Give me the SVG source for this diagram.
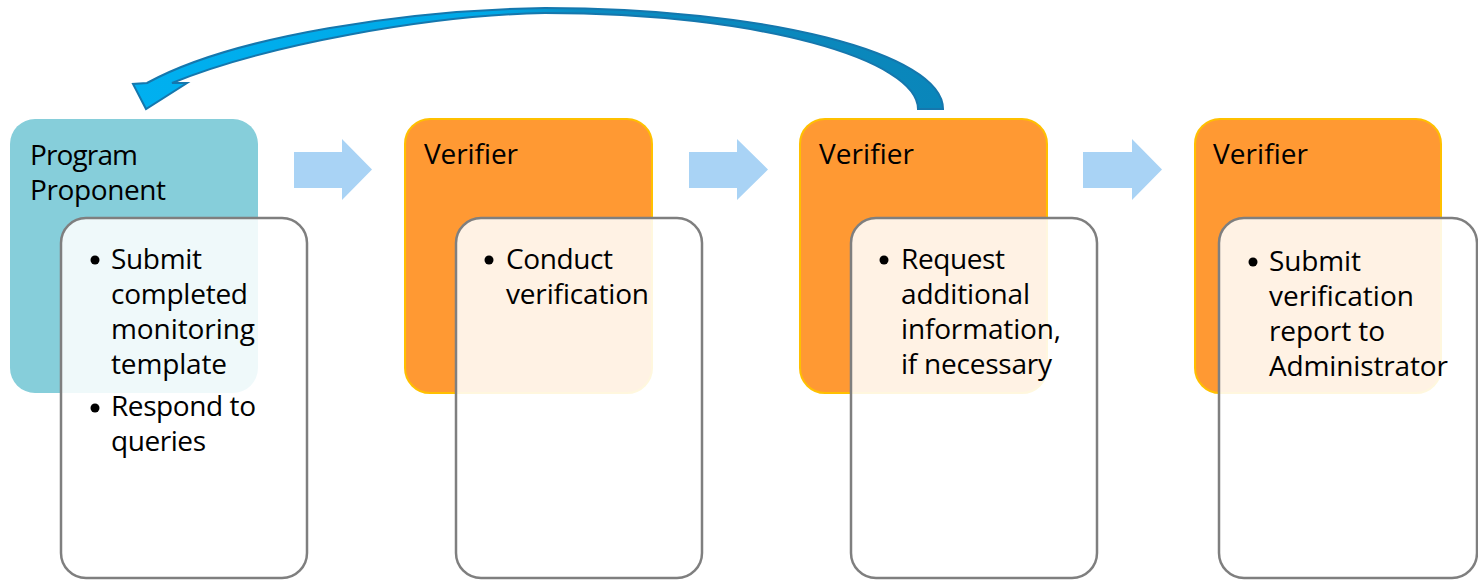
<svg xmlns="http://www.w3.org/2000/svg" width="1478" height="580" viewBox="0 0 1478 580">
  <style>
    .t { font-family: "Open Sans", "Liberation Sans", sans-serif; font-size: 28px; fill: #000; }
    .teal { fill: #86CEDA; }
    .orange { fill: #FF9933; stroke: #FFC000; stroke-width: 2; }
    .inner { fill: #FFFFFF; fill-opacity: 0.87; stroke: #7F7F7F; stroke-width: 2.5; }
    .blk { fill: #A9D3F5; }
    .dot { fill: #000; }
  </style>
  <defs>
    <linearGradient id="curveGrad" x1="130" y1="0" x2="945" y2="0" gradientUnits="userSpaceOnUse">
      <stop offset="0" stop-color="#00B0F0"/>
      <stop offset="0.45" stop-color="#00A8E6"/>
      <stop offset="0.55" stop-color="#0A8CC2"/>
      <stop offset="1" stop-color="#0A86BA"/>
    </linearGradient>
  </defs>

  <rect width="1478" height="580" fill="#FFFFFF"/>

  <g id="connectors">
    <path id="curved-arrow" d="M943,109 C943,53 765,8 545,8 C410,10 235,35 147,83 L133,84 L146,109 L187,83 L172,83 C265,45 430,15 545,13 C760,13 918,60 918,109 Z" fill="url(#curveGrad)" stroke="#1577AD" stroke-width="2" stroke-linejoin="miter"/>
    <path id="arrow-1" class="blk" d="M294,152 L342,152 L342,139 L372,169.5 L342,200 L342,188 L294,188 Z"/>
    <path id="arrow-2" class="blk" d="M689,152 L737,152 L737,139 L768,169.5 L737,200 L737,188 L689,188 Z"/>
    <path id="arrow-3" class="blk" d="M1083,152 L1132,152 L1132,139 L1162,169.5 L1132,200 L1132,188 L1083,188 Z"/>
  </g>

  <g id="node-program-proponent">
    <rect class="teal" x="10" y="119" width="248" height="274" rx="25" ry="25"/>
    <text class="t" x="30" y="165" textLength="108">Program</text>
    <text class="t" x="30" y="200" textLength="136">Proponent</text>
  </g>
  <g id="node-program-proponent-tasks">
    <rect class="inner" x="61" y="218" width="246" height="360" rx="25" ry="25"/>
    <circle class="dot" cx="95" cy="260" r="4.5"/>
    <text class="t" x="111" y="269" textLength="91">Submit</text>
    <text class="t" x="111" y="304" textLength="137">completed</text>
    <text class="t" x="111" y="339" textLength="144">monitoring</text>
    <text class="t" x="111" y="374" textLength="116">template</text>
    <circle class="dot" cx="95" cy="408" r="4.5"/>
    <text class="t" x="111" y="416" textLength="145">Respond to</text>
    <text class="t" x="111" y="451" textLength="95">queries</text>
  </g>

  <g id="node-verifier-1">
    <rect class="orange" x="405" y="119" width="247" height="274" rx="25" ry="25"/>
    <text class="t" x="424" y="164" textLength="94">Verifier</text>
  </g>
  <g id="node-verifier-1-tasks">
    <rect class="inner" x="456" y="218" width="246" height="360" rx="25" ry="25"/>
    <circle class="dot" cx="489" cy="260" r="4.5"/>
    <text class="t" x="506" y="269" textLength="107">Conduct</text>
    <text class="t" x="506" y="304" textLength="143">verification</text>
  </g>

  <g id="node-verifier-2">
    <rect class="orange" x="800" y="119" width="247" height="274" rx="25" ry="25"/>
    <text class="t" x="819" y="164" textLength="95">Verifier</text>
  </g>
  <g id="node-verifier-2-tasks">
    <rect class="inner" x="851" y="218" width="246" height="360" rx="25" ry="25"/>
    <circle class="dot" cx="884" cy="260" r="4.5"/>
    <text class="t" x="901" y="269" textLength="104">Request</text>
    <text class="t" x="901" y="304" textLength="129">additional</text>
    <text class="t" x="901" y="339" textLength="160">information,</text>
    <text class="t" x="901" y="374" textLength="151">if necessary</text>
  </g>

  <g id="node-verifier-3">
    <rect class="orange" x="1195" y="119" width="246" height="274" rx="25" ry="25"/>
    <text class="t" x="1213" y="164" textLength="95">Verifier</text>
  </g>
  <g id="node-verifier-3-tasks">
    <rect class="inner" x="1219" y="218" width="258" height="360" rx="25" ry="25"/>
    <circle class="dot" cx="1253" cy="262" r="4.5"/>
    <text class="t" x="1269" y="271" textLength="92">Submit</text>
    <text class="t" x="1269" y="306" textLength="145">verification</text>
    <text class="t" x="1269" y="341" textLength="116">report to</text>
    <text class="t" x="1269" y="376" textLength="179">Administrator</text>
  </g>
</svg>
